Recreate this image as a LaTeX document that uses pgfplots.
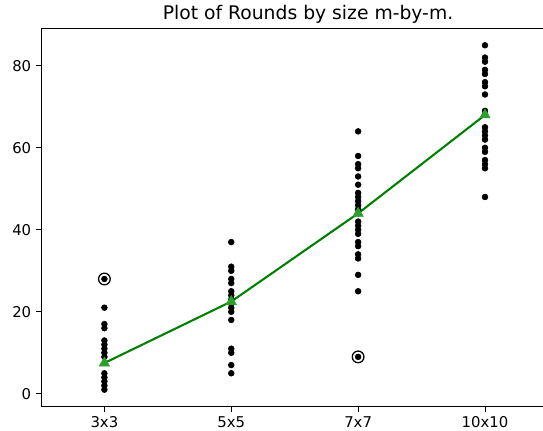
\documentclass[border=0pt]{standalone}
\usepackage{pgfplots}
\pgfplotsset{compat=1.18}
\usepackage{fontspec}
\setmainfont{DejaVu Sans}
\definecolor{lineg}{RGB}{0,128,0}
\definecolor{meang}{HTML}{2CA02C}
\pgfplotstableread{
x y
0 21
0 17
0 16
0 13
0 12
0 11
0 10
0 9
0 5
0 4
0 3
0 2
0 1
0 28
1 37
1 31
1 30
1 28
1 27
1 25
1 24
1 23
1 22
1 21
1 20
1 18
1 11
1 10
1 7
1 5
2 64
2 58
2 56
2 55
2 53
2 51
2 49
2 48
2 47
2 46
2 45
2 44
2 42
2 41
2 40
2 39
2 37
2 36
2 34
2 33
2 29
2 25
2 9
3 85
3 82
3 81
3 79
3 78
3 76
3 75
3 73
3 69
3 68
3 65
3 64
3 63
3 62
3 60
3 59
3 57
3 56
3 55
3 48
}\rounds
\pgfplotstableread{
x y
0 7.5
1 22.5
2 44
3 68
}\means
\begin{document}
\begin{tikzpicture}
\begin{axis}[name=ax, at={(0,0)}, anchor=south west,
  scale only axis, width=365.4pt, height=272.2pt,
  xmin=-0.5, xmax=3.5, ymin=-3.2, ymax=89,
  xtick={0,1,2,3}, xticklabels={3x3,5x5,7x7,10x10},
  ytick={0,20,40,60,80},
  tick align=outside, tick pos=left, major tick length=3.5pt,
  tick style={black, line width=0.6pt},
  axis line style={line width=0.6pt},
  ticklabel style={font=\fontsize{10.7}{12}\selectfont},
  /pgf/number format/assume math mode=true,
]
\addplot[only marks, mark=*, mark size=2.1pt, black] table[x=x,y=y] {\rounds};
\addplot[only marks, mark=o, mark size=4.2pt, black, line width=0.9pt] coordinates {(0,28) (2,9)};
\addplot[lineg, line width=1.5pt, no marks] table[x=x,y=y] {\means};
\addplot[only marks, mark=triangle*, mark size=4.3pt, mark options={fill=meang, draw=meang}] table[x=x,y=y] {\means};
\end{axis}
\pgfresetboundingbox
\path[use as bounding box] (ax.south west) ++(-29.5pt,-17.3pt) rectangle ++(391pt,310.3pt);
\path (ax.south west) ++(192.3pt,282.5pt) node[font=\fontsize{13.5}{15}\selectfont] {Plot of Rounds by size m-by-m.};
\end{tikzpicture}
\end{document}
